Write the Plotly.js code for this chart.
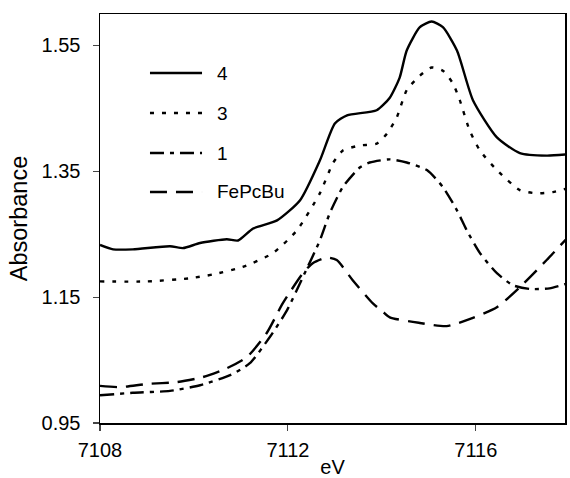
<!DOCTYPE html>
<html><head><meta charset="utf-8">
<script src="https://cdn.plot.ly/plotly-3.0.1.min.js"></script>
<style>html,body{margin:0;padding:0;background:#fff}#c{width:570px;height:478px}</style>
</head><body><div id="c"></div>
<script>
// Curve "4" (solid)
const x4 = [7108.00,7108.28,7108.70,7109.49,7109.77,7110.13,7110.70,7110.94,7111.26,7111.77,7112.26,7112.68,7113.00,7113.26,7113.89,7114.17,7114.38,7114.53,7114.81,7115.06,7115.30,7115.60,7115.94,7116.45,7116.94,7117.51,7117.96];
const y4 = [1.233,1.226,1.226,1.231,1.228,1.236,1.242,1.240,1.259,1.272,1.304,1.367,1.426,1.439,1.447,1.467,1.499,1.542,1.579,1.588,1.579,1.542,1.463,1.404,1.379,1.375,1.377];
// Curve "3" (dotted)
const x3 = [7108.00,7109.00,7109.91,7110.40,7111.04,7111.68,7112.19,7112.68,7112.96,7113.17,7113.53,7113.89,7114.11,7114.32,7114.53,7114.81,7115.06,7115.30,7115.51,7115.66,7115.87,7116.09,7116.45,7116.94,7117.30,7117.64,7117.96];
const y3 = [1.175,1.175,1.180,1.186,1.198,1.220,1.256,1.315,1.363,1.383,1.391,1.394,1.410,1.436,1.479,1.502,1.515,1.510,1.490,1.463,1.415,1.383,1.352,1.320,1.315,1.317,1.323];
// Curve "1" (dash-dot)
const x1 = [7108.00,7108.70,7109.49,7110.13,7110.77,7111.19,7111.62,7111.98,7112.32,7112.68,7112.89,7113.17,7113.53,7113.74,7114.17,7114.53,7114.96,7115.30,7115.60,7115.81,7116.09,7116.45,7116.79,7117.15,7117.57,7117.96];
const y1 = [0.994,0.998,1.001,1.010,1.026,1.045,1.087,1.129,1.182,1.240,1.283,1.325,1.356,1.364,1.369,1.364,1.352,1.325,1.288,1.256,1.220,1.188,1.169,1.163,1.164,1.172];
// Curve "FePcBu" (dashed)
const xF = [7108.00,7108.43,7109.00,7109.64,7110.19,7110.70,7111.13,7111.55,7111.89,7112.32,7112.53,7112.83,7113.04,7113.38,7113.81,7114.02,7114.17,7114.81,7115.38,7115.94,7116.45,7116.94,7117.51,7117.96];
const yF = [1.009,1.007,1.012,1.015,1.023,1.037,1.055,1.093,1.140,1.188,1.204,1.213,1.209,1.177,1.140,1.127,1.118,1.109,1.104,1.117,1.134,1.166,1.209,1.245];

const names = ['4','3','1','FePcBu'];
const xTicks = [7108,7112,7116];
const yTicks = [0.95,1.15,1.35,1.55];

const font = 'Liberation Sans, Arial, sans-serif';
const dashes = ['solid','4px,8px','14px,6px,4px,6px','17px,9px'];
const LW = 2.4;
function tr(x,y,i){
  return {x:x,y:y,name:names[i],type:'scatter',mode:'lines',showlegend:false,
    line:{color:'#000',width:LW,dash:dashes[i],shape:'spline',smoothing:0.6}};
}
const data = [tr(x4,y4,0),tr(x3,y3,1),tr(x1,y1,2),tr(xF,yF,3)];

// legend drawn in paper coordinates
const legRows = [0.8557,0.7579,0.6601,0.5648];
const shapes = [], annotations = [];
names.forEach((n,i)=>{
  shapes.push({type:'line',xref:'paper',yref:'paper',x0:0.1075,x1:0.2194,y0:legRows[i],y1:legRows[i],
    line:{color:'#000',width:LW,dash:dashes[i]}});
  annotations.push({xref:'paper',yref:'paper',x:0.2473,y:legRows[i],xanchor:'left',yanchor:'middle',
    text:n,showarrow:false,font:{size:19,family:font,color:'#000'}});
});

const layout = {
  width:570,height:478,
  margin:{l:100,r:5,t:14,b:55},
  paper_bgcolor:'#fff',plot_bgcolor:'#fff',
  font:{family:font,color:'#000',size:20},
  showlegend:false,
  shapes:shapes,annotations:annotations,
  xaxis:{range:[7108,7117.9],tickvals:xTicks,ticktext:xTicks.map(String),
    ticks:'outside',ticklen:6,tickwidth:1.2,showline:true,linecolor:'#000',linewidth:1.5,mirror:true,
    showgrid:false,zeroline:false,tickfont:{size:20},ticklabelstandoff:2,
    title:{text:'eV',font:{size:20},standoff:8}},
  yaxis:{range:[0.95,1.6],tickvals:yTicks,ticktext:yTicks.map(v=>v.toFixed(2)),
    ticks:'outside',ticklen:6,tickwidth:1.2,showline:true,linecolor:'#000',linewidth:1.5,mirror:true,
    showgrid:false,zeroline:false,tickfont:{size:20},ticklabelstandoff:8,
    title:{text:'Absorbance',font:{size:23.5},standoff:7}}
};
Plotly.newPlot('c',data,layout,{displayModeBar:false,staticPlot:true});
</script></body></html>
